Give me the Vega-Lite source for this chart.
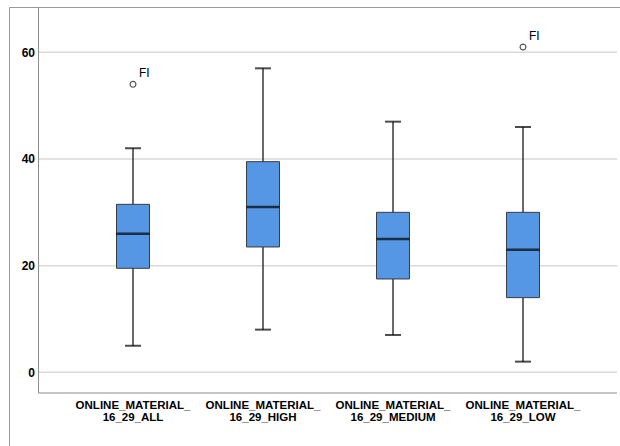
{
  "$schema": "https://vega.github.io/schema/vega-lite/v6.json",
  "width": 611,
  "height": 439,
  "autosize": {"type": "none"},
  "padding": {"top": 7, "left": 9, "right": 0, "bottom": 0},
  "background": "white",
  "view": {"stroke": "#9a9a9a", "strokeWidth": 1, "strokeDash": [611, 1050, 439], "fill": "white"},
  "datasets": {
    "boxes": [
      {"group": "ONLINE_MATERIAL_16_29_ALL", "lower": 5, "q1": 19.5, "median": 26, "q3": 31.5, "upper": 42},
      {"group": "ONLINE_MATERIAL_16_29_HIGH", "lower": 8, "q1": 23.5, "median": 31, "q3": 39.5, "upper": 57},
      {"group": "ONLINE_MATERIAL_16_29_MEDIUM", "lower": 7, "q1": 17.5, "median": 25, "q3": 30, "upper": 47},
      {"group": "ONLINE_MATERIAL_16_29_LOW", "lower": 2, "q1": 14, "median": 23, "q3": 30, "upper": 46}
    ],
    "outliers": [
      {"group": "ONLINE_MATERIAL_16_29_ALL", "value": 54, "label": "FI"},
      {"group": "ONLINE_MATERIAL_16_29_LOW", "value": 61, "label": "FI"}
    ],
    "grid": [{"v": 0}, {"v": 20}, {"v": 40}, {"v": 60}]
  },
  "encoding": {
    "x": {
      "field": "group",
      "type": "nominal",
      "scale": {
        "type": "band",
        "domain": ["ONLINE_MATERIAL_16_29_ALL", "ONLINE_MATERIAL_16_29_HIGH", "ONLINE_MATERIAL_16_29_MEDIUM", "ONLINE_MATERIAL_16_29_LOW"],
        "paddingInner": 0,
        "paddingOuter": 0.35,
        "align": 0.6484,
        "round": false
      },
      "axis": {
        "orient": "bottom",
        "offset": -53,
        "title": null,
        "domain": false,
        "ticks": false,
        "grid": false,
        "labelAngle": 0,
        "labelPadding": 6,
        "labelFont": "Liberation Sans",
        "labelFontSize": 11.5,
        "labelFontWeight": "bold",
        "labelColor": "#000000",
        "labelLineHeight": 12.5,
        "labelLimit": 0,
        "labelOverlap": false,
        "labelExpr": "[slice(datum.label, 0, 16), slice(datum.label, 16)]"
      }
    },
    "y": {
      "type": "quantitative",
      "scale": {"domain": [-13.82, 68.5], "nice": false, "zero": false},
      "axis": {
        "orient": "left",
        "offset": -29.5,
        "title": null,
        "domain": false,
        "ticks": false,
        "grid": false,
        "values": [0, 20, 40, 60],
        "labelPadding": 4,
        "labelFont": "Liberation Sans",
        "labelFontSize": 12,
        "labelFontWeight": "bold",
        "labelColor": "#000000"
      }
    }
  },
  "layer": [
    {
      "data": {"name": "grid"},
      "mark": {"type": "rule", "color": "#d9d9d9", "strokeWidth": 1.5},
      "encoding": {
        "y": {"field": "v", "type": "quantitative"},
        "x": {"datum": "ONLINE_MATERIAL_16_29_ALL", "bandPosition": -0.2269},
        "x2": {"datum": "ONLINE_MATERIAL_16_29_LOW", "bandPosition": 1.223}
      }
    },
    {
      "data": {"values": [{"edge": "bottom"}]},
      "mark": {"type": "rule", "color": "#8c8c8c", "strokeWidth": 1},
      "encoding": {
        "y": {"datum": -3.88},
        "x": {"datum": "ONLINE_MATERIAL_16_29_ALL", "bandPosition": -0.2269},
        "x2": {"datum": "ONLINE_MATERIAL_16_29_LOW", "bandPosition": 1.223}
      }
    },
    {
      "data": {"values": [{"edge": "left"}]},
      "mark": {"type": "rule", "color": "#8c8c8c", "strokeWidth": 1},
      "encoding": {
        "x": {"datum": "ONLINE_MATERIAL_16_29_ALL", "bandPosition": -0.2269},
        "y": {"datum": 68.5},
        "y2": {"datum": -3.88}
      }
    },
    {
      "data": {"name": "boxes"},
      "mark": {"type": "rule", "color": "#1a1a1a", "strokeWidth": 1.3},
      "encoding": {
        "y": {"field": "lower", "type": "quantitative"},
        "y2": {"field": "upper"}
      }
    },
    {
      "data": {"name": "boxes"},
      "mark": {"type": "tick", "color": "#000000", "size": 16, "thickness": 2},
      "encoding": {"y": {"field": "lower", "type": "quantitative"}}
    },
    {
      "data": {"name": "boxes"},
      "mark": {"type": "tick", "color": "#000000", "size": 16, "thickness": 2},
      "encoding": {"y": {"field": "upper", "type": "quantitative"}}
    },
    {
      "data": {"name": "boxes"},
      "mark": {"type": "bar", "size": 33, "fill": "#5596e5", "stroke": "#3c3c3c", "strokeWidth": 1, "opacity": 1},
      "encoding": {
        "y": {"field": "q1", "type": "quantitative"},
        "y2": {"field": "q3"}
      }
    },
    {
      "data": {"name": "boxes"},
      "mark": {"type": "tick", "color": "#000000", "size": 33, "thickness": 2.5},
      "encoding": {"y": {"field": "median", "type": "quantitative"}}
    },
    {
      "data": {"name": "outliers"},
      "mark": {"type": "point", "shape": "circle", "filled": false, "size": 34, "stroke": "#555555", "strokeWidth": 1.2, "opacity": 1},
      "encoding": {"y": {"field": "value", "type": "quantitative"}}
    },
    {
      "data": {"name": "outliers"},
      "mark": {"type": "text", "align": "left", "baseline": "alphabetic", "dx": 6, "dy": -7, "font": "Liberation Sans", "fontSize": 12, "fontWeight": 500, "color": "#000000"},
      "encoding": {
        "y": {"field": "value", "type": "quantitative"},
        "text": {"field": "label"}
      }
    }
  ]
}
